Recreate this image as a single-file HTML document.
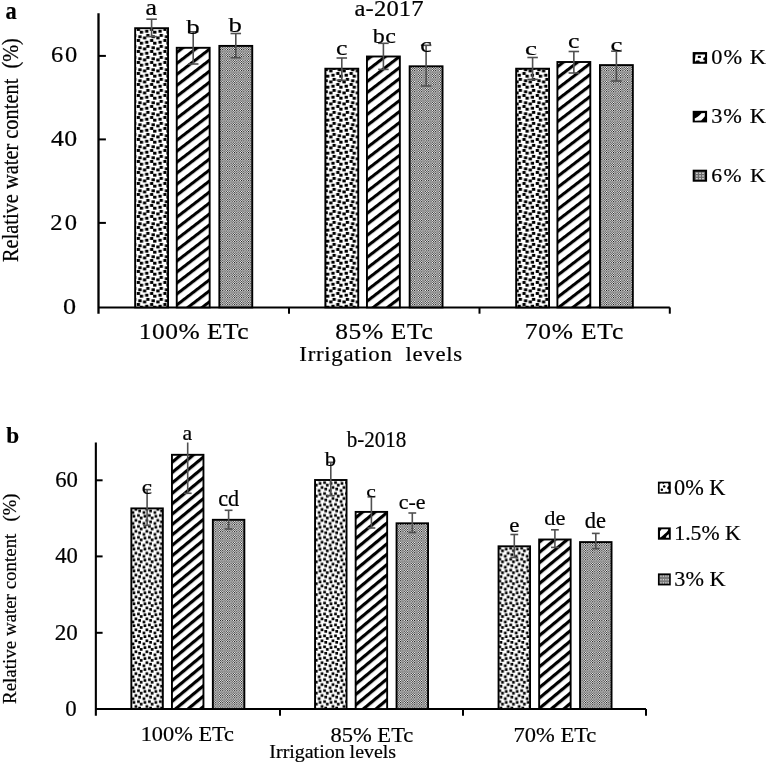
<!DOCTYPE html>
<html><head><meta charset="utf-8"><style>
html,body{margin:0;padding:0;background:#fff;}
svg{display:block;filter:grayscale(1);}
text{font-family:"Liberation Serif",serif;fill:#000;stroke:#000;stroke-width:0.2px;}
</style></head><body>
<svg width="767" height="764" viewBox="0 0 767 764">
<rect width="767" height="764" fill="#fff"/>

<defs>
<pattern id="dotA" patternUnits="userSpaceOnUse" width="13.3" height="11.0" x="136" y="200">
 <rect width="13.3" height="11.0" fill="#fff"/>
 <g fill="#000">
 <rect x="2.26" y="0.31" width="3.3" height="2.9"/><rect x="-3.02" y="-1.06" width="3.3" height="2.9"/><rect x="-3.02" y="9.94" width="3.3" height="2.9"/><rect x="10.28" y="-1.06" width="3.3" height="2.9"/><rect x="10.28" y="9.94" width="3.3" height="2.9"/><rect x="6.95" y="1.48" width="3.3" height="2.9"/><rect x="0.70" y="4.03" width="3.3" height="2.9"/><rect x="3.83" y="6.76" width="3.3" height="2.9"/><rect x="9.10" y="5.78" width="3.3" height="2.9"/>
 </g>
</pattern>
<pattern id="dotB" patternUnits="userSpaceOnUse" width="10.95" height="10.95" x="132" y="640">
 <rect width="10.95" height="10.95" fill="#fff"/>
 <g fill="#000">
 <rect x="2.56" y="-0.57" width="2.7" height="2.7"/><rect x="2.56" y="10.38" width="2.7" height="2.7"/><rect x="6.28" y="1.00" width="2.7" height="2.7"/><rect x="-0.37" y="2.56" width="2.7" height="2.7"/><rect x="10.58" y="2.56" width="2.7" height="2.7"/><rect x="5.10" y="5.49" width="2.7" height="2.7"/><rect x="0.61" y="6.28" width="2.7" height="2.7"/><rect x="7.84" y="8.04" width="2.7" height="2.7"/>
 </g>
</pattern>
<pattern id="strA" patternUnits="userSpaceOnUse" width="20" height="8.7" patternTransform="rotate(-37.6)">
 <rect width="20" height="8.7" fill="#fff"/>
 <rect y="0" width="20" height="3.1" fill="#000"/>
</pattern>
<pattern id="strB" patternUnits="userSpaceOnUse" width="20" height="8.0" patternTransform="rotate(-39.7)">
 <rect width="20" height="8.0" fill="#fff"/>
 <rect y="0" width="20" height="3.2" fill="#000"/>
</pattern>
<pattern id="grid" patternUnits="userSpaceOnUse" width="2.34" height="2.34">
 <rect width="2.34" height="2.34" fill="#fff"/>
 <rect width="1.07" height="1.07" fill="#000"/>
 <rect x="1.17" y="1.17" width="1.07" height="1.07" fill="#000"/>
</pattern>
</defs>

<line x1="98.5" y1="13.3" x2="98.5" y2="313.7" stroke="#000" stroke-width="2.3"/>
<line x1="98.5" y1="55.9" x2="105.9" y2="55.9" stroke="#000" stroke-width="2"/>
<line x1="98.5" y1="139.4" x2="105.9" y2="139.4" stroke="#000" stroke-width="2"/>
<line x1="98.5" y1="222.9" x2="105.9" y2="222.9" stroke="#000" stroke-width="2"/>
<line x1="98.5" y1="307.4" x2="669.8" y2="307.4" stroke="#000" stroke-width="2"/>
<line x1="289" y1="307.4" x2="289" y2="313.7" stroke="#000" stroke-width="2"/>
<line x1="479.5" y1="307.4" x2="479.5" y2="313.7" stroke="#000" stroke-width="2"/>
<line x1="669.8" y1="307.4" x2="669.8" y2="313.7" stroke="#000" stroke-width="2"/>
<rect x="135.15" y="28.2" width="32.9" height="279.2" fill="url(#dotA)" stroke="#000" stroke-width="1.9"/>
<rect x="176.75" y="47.8" width="32.9" height="259.6" fill="url(#strA)" stroke="#000" stroke-width="1.9"/>
<rect x="219.35" y="45.9" width="32.9" height="261.5" fill="url(#grid)" stroke="#000" stroke-width="1.9"/>
<rect x="325.35" y="68.7" width="32.9" height="238.7" fill="url(#dotA)" stroke="#000" stroke-width="1.9"/>
<rect x="366.95" y="56.5" width="32.9" height="250.9" fill="url(#strA)" stroke="#000" stroke-width="1.9"/>
<rect x="409.65" y="66.3" width="32.9" height="241.1" fill="url(#grid)" stroke="#000" stroke-width="1.9"/>
<rect x="516.15" y="68.7" width="32.9" height="238.7" fill="url(#dotA)" stroke="#000" stroke-width="1.9"/>
<rect x="557.4" y="62" width="32.9" height="245.4" fill="url(#strA)" stroke="#000" stroke-width="1.9"/>
<rect x="599.95" y="65.1" width="32.9" height="242.3" fill="url(#grid)" stroke="#000" stroke-width="1.9"/>
<line x1="151.6" y1="19.2" x2="151.6" y2="36.6" stroke="#505050" stroke-width="1.6"/>
<line x1="146.35" y1="19.2" x2="156.85" y2="19.2" stroke="#505050" stroke-width="1.6"/>
<line x1="146.35" y1="36.6" x2="156.85" y2="36.6" stroke="#505050" stroke-width="1.6"/>
<line x1="193.2" y1="31.8" x2="193.2" y2="64" stroke="#505050" stroke-width="1.6"/>
<line x1="187.95" y1="31.8" x2="198.45" y2="31.8" stroke="#505050" stroke-width="1.6"/>
<line x1="187.95" y1="64" x2="198.45" y2="64" stroke="#505050" stroke-width="1.6"/>
<line x1="235.8" y1="33.5" x2="235.8" y2="57.7" stroke="#505050" stroke-width="1.6"/>
<line x1="230.55" y1="33.5" x2="241.05" y2="33.5" stroke="#505050" stroke-width="1.6"/>
<line x1="230.55" y1="57.7" x2="241.05" y2="57.7" stroke="#505050" stroke-width="1.6"/>
<line x1="341.8" y1="58" x2="341.8" y2="80.3" stroke="#505050" stroke-width="1.6"/>
<line x1="336.55" y1="58" x2="347.05" y2="58" stroke="#505050" stroke-width="1.6"/>
<line x1="336.55" y1="80.3" x2="347.05" y2="80.3" stroke="#505050" stroke-width="1.6"/>
<line x1="383.4" y1="43.3" x2="383.4" y2="69.4" stroke="#505050" stroke-width="1.6"/>
<line x1="378.15" y1="43.3" x2="388.65" y2="43.3" stroke="#505050" stroke-width="1.6"/>
<line x1="378.15" y1="69.4" x2="388.65" y2="69.4" stroke="#505050" stroke-width="1.6"/>
<line x1="426.1" y1="45.3" x2="426.1" y2="86" stroke="#505050" stroke-width="1.6"/>
<line x1="420.85" y1="45.3" x2="431.35" y2="45.3" stroke="#505050" stroke-width="1.6"/>
<line x1="420.85" y1="86" x2="431.35" y2="86" stroke="#505050" stroke-width="1.6"/>
<line x1="532.6" y1="57.5" x2="532.6" y2="79.4" stroke="#505050" stroke-width="1.6"/>
<line x1="527.35" y1="57.5" x2="537.85" y2="57.5" stroke="#505050" stroke-width="1.6"/>
<line x1="527.35" y1="79.4" x2="537.85" y2="79.4" stroke="#505050" stroke-width="1.6"/>
<line x1="573.85" y1="51.5" x2="573.85" y2="73" stroke="#505050" stroke-width="1.6"/>
<line x1="568.6" y1="51.5" x2="579.1" y2="51.5" stroke="#505050" stroke-width="1.6"/>
<line x1="568.6" y1="73" x2="579.1" y2="73" stroke="#505050" stroke-width="1.6"/>
<line x1="616.4" y1="51.2" x2="616.4" y2="81" stroke="#505050" stroke-width="1.6"/>
<line x1="611.15" y1="51.2" x2="621.65" y2="51.2" stroke="#505050" stroke-width="1.6"/>
<line x1="611.15" y1="81" x2="621.65" y2="81" stroke="#505050" stroke-width="1.6"/>
<text transform="translate(5.48 18.55) scale(0.9178 1)" font-size="24.43" font-weight="bold" xml:space="preserve">a</text>
<text transform="translate(51.05 61.8) scale(1.1000 1)" font-size="22.26" font-weight="normal" letter-spacing="1.454" xml:space="preserve">60</text>
<text transform="translate(50.93 145.8) scale(1.1000 1)" font-size="23.46" font-weight="normal" letter-spacing="0.403" xml:space="preserve">40</text>
<text transform="translate(50.34 229.8) scale(1.1000 1)" font-size="22.33" font-weight="normal" letter-spacing="2.022" xml:space="preserve">20</text>
<text transform="translate(62.9 313.7) scale(1.1165 1)" font-size="23.46" font-weight="normal" xml:space="preserve">0</text>
<text transform="translate(354.49 15.9) scale(1.1000 1)" font-size="22.41" font-weight="normal" letter-spacing="0.129" xml:space="preserve">a-2017</text>
<text transform="translate(138.76 339.3) scale(1.1000 1)" font-size="23.16" font-weight="normal" letter-spacing="0.439" xml:space="preserve">100% ETc</text>
<text transform="translate(335.13 339.3) scale(1.1000 1)" font-size="23.16" font-weight="normal" letter-spacing="0.597" xml:space="preserve">85% ETc</text>
<text transform="translate(524.79 339.3) scale(1.1000 1)" font-size="23.16" font-weight="normal" letter-spacing="0.724" xml:space="preserve">70% ETc</text>
<text transform="translate(299.35 361.4) scale(1.1000 1)" font-size="20.72" font-weight="normal" letter-spacing="0.655" xml:space="preserve">Irrigation  levels</text>
<text transform="translate(18.3 262.06) rotate(-90) scale(1 1.1156)" font-size="20.39" xml:space="preserve">Relative water content</text>
<text transform="translate(18.4 68.56) rotate(-90) scale(1 1.1634)" font-size="20.28" xml:space="preserve">(%)</text>
<text transform="translate(711.36 63.6) scale(1.1000 1)" font-size="20.30" font-weight="normal" letter-spacing="0.892" xml:space="preserve">0% K</text>
<text transform="translate(711.13 122.6) scale(1.1000 1)" font-size="20.30" font-weight="normal" letter-spacing="0.960" xml:space="preserve">3% K</text>
<text transform="translate(711.27 181.6) scale(1.1000 1)" font-size="19.70" font-weight="normal" letter-spacing="1.377" xml:space="preserve">6% K</text>
<rect x="692.69" y="52.06" width="14.38" height="11.72" fill="#000"/>
<polygon points="695.50,54.56 705.03,54.56 704.88,57.06 703.31,58.00 703.31,59.88 704.88,60.50 704.25,61.75 699.88,61.75 699.25,60.50 696.44,60.50 695.50,61.75 694.88,60.50 695.19,58.00" fill="#fff"/>
<rect x="697.84" y="55.81" width="2.97" height="2.19" fill="#000"/>
<rect x="692.69" y="110.84" width="14.38" height="11.56" fill="#000"/>
<polygon points="694.72,118.50 697.38,116.94 699.88,115.06 701.44,113.19 704.88,112.88 704.88,116.31 703.31,118.19 701.12,120.38 694.88,120.69" fill="#fff"/>
<rect x="692.69" y="169.69" width="14.38" height="12.03" fill="#000"/>
<rect x="694.72" y="171.72" width="10.31" height="8.12" fill="#6a6a6a"/>
<rect x="696.09" y="172.59" width="1.62" height="1.38" fill="#dcdcdc"/>
<rect x="696.09" y="175.25" width="1.62" height="1.38" fill="#dcdcdc"/>
<rect x="696.09" y="177.91" width="1.62" height="1.38" fill="#dcdcdc"/>
<rect x="699.22" y="172.59" width="1.62" height="1.38" fill="#dcdcdc"/>
<rect x="699.22" y="175.25" width="1.62" height="1.38" fill="#dcdcdc"/>
<rect x="699.22" y="177.91" width="1.62" height="1.38" fill="#dcdcdc"/>
<rect x="702.19" y="172.59" width="1.62" height="1.38" fill="#dcdcdc"/>
<rect x="702.19" y="175.25" width="1.62" height="1.38" fill="#dcdcdc"/>
<rect x="702.19" y="177.91" width="1.62" height="1.38" fill="#dcdcdc"/>
<text transform="translate(145.55 14.6) scale(1.1343 1)" font-size="22.77" font-weight="normal" xml:space="preserve">a</text>
<text transform="translate(186.15 33.6) scale(1.2245 1)" font-size="22.01" font-weight="normal" xml:space="preserve">b</text>
<text transform="translate(228.55 32.1) scale(1.2146 1)" font-size="22.01" font-weight="normal" xml:space="preserve">b</text>
<text transform="translate(336.02 54.5) scale(1.2405 1)" font-size="20.85" font-weight="normal" xml:space="preserve">c</text>
<text transform="translate(372.65 42.6) scale(1.1000 1)" font-size="21.87" font-weight="normal" letter-spacing="0.443" xml:space="preserve">bc</text>
<text transform="translate(420.32 52.4) scale(1.1803 1)" font-size="21.91" font-weight="normal" xml:space="preserve">c</text>
<text transform="translate(525.07 54.5) scale(1.4223 1)" font-size="18.94" font-weight="normal" xml:space="preserve">c</text>
<text transform="translate(568.02 48.1) scale(1.2405 1)" font-size="20.85" font-weight="normal" xml:space="preserve">c</text>
<text transform="translate(610.47 50.8) scale(1.3759 1)" font-size="19.57" font-weight="normal" xml:space="preserve">c</text>
<line x1="95.85" y1="442.5" x2="95.85" y2="715.8" stroke="#000" stroke-width="2.1"/>
<line x1="95.85" y1="480.3" x2="102.6" y2="480.3" stroke="#000" stroke-width="2"/>
<line x1="95.85" y1="556.4" x2="102.6" y2="556.4" stroke="#000" stroke-width="2"/>
<line x1="95.85" y1="632.8" x2="102.6" y2="632.8" stroke="#000" stroke-width="2"/>
<line x1="95.85" y1="709" x2="646" y2="709" stroke="#000" stroke-width="2.1"/>
<line x1="280" y1="709" x2="280" y2="715.8" stroke="#000" stroke-width="2"/>
<line x1="463" y1="709" x2="463" y2="715.8" stroke="#000" stroke-width="2"/>
<line x1="646" y1="709" x2="646" y2="715.8" stroke="#000" stroke-width="2"/>
<rect x="131.35" y="508.4" width="31.5" height="200.6" fill="url(#dotB)" stroke="#000" stroke-width="1.9"/>
<rect x="171.95" y="454.8" width="31.5" height="254.2" fill="url(#strB)" stroke="#000" stroke-width="1.9"/>
<rect x="212.85" y="519.8" width="31.5" height="189.2" fill="url(#grid)" stroke="#000" stroke-width="1.9"/>
<rect x="315.05" y="480" width="31.5" height="229" fill="url(#dotB)" stroke="#000" stroke-width="1.9"/>
<rect x="355.65" y="511.9" width="31.5" height="197.1" fill="url(#strB)" stroke="#000" stroke-width="1.9"/>
<rect x="396.55" y="523.3" width="31.5" height="185.7" fill="url(#grid)" stroke="#000" stroke-width="1.9"/>
<rect x="498.55" y="546.3" width="31.5" height="162.7" fill="url(#dotB)" stroke="#000" stroke-width="1.9"/>
<rect x="539.15" y="539.5" width="31.5" height="169.5" fill="url(#strB)" stroke="#000" stroke-width="1.9"/>
<rect x="580.05" y="542.1" width="31.5" height="166.9" fill="url(#grid)" stroke="#000" stroke-width="1.9"/>
<line x1="147.1" y1="489.6" x2="147.1" y2="525.4" stroke="#505050" stroke-width="1.6"/>
<line x1="143.2" y1="489.6" x2="151" y2="489.6" stroke="#505050" stroke-width="1.6"/>
<line x1="143.2" y1="525.4" x2="151" y2="525.4" stroke="#505050" stroke-width="1.6"/>
<line x1="187.7" y1="442.5" x2="187.7" y2="493.3" stroke="#505050" stroke-width="1.6"/>
<line x1="183.8" y1="493.3" x2="191.6" y2="493.3" stroke="#505050" stroke-width="1.6"/>
<line x1="228.6" y1="510.3" x2="228.6" y2="529" stroke="#505050" stroke-width="1.6"/>
<line x1="224.7" y1="510.3" x2="232.5" y2="510.3" stroke="#505050" stroke-width="1.6"/>
<line x1="224.7" y1="529" x2="232.5" y2="529" stroke="#505050" stroke-width="1.6"/>
<line x1="330.8" y1="462.3" x2="330.8" y2="495.7" stroke="#505050" stroke-width="1.6"/>
<line x1="326.9" y1="462.3" x2="334.7" y2="462.3" stroke="#505050" stroke-width="1.6"/>
<line x1="326.9" y1="495.7" x2="334.7" y2="495.7" stroke="#505050" stroke-width="1.6"/>
<line x1="371.4" y1="496.9" x2="371.4" y2="528" stroke="#505050" stroke-width="1.6"/>
<line x1="367.5" y1="496.9" x2="375.3" y2="496.9" stroke="#505050" stroke-width="1.6"/>
<line x1="367.5" y1="528" x2="375.3" y2="528" stroke="#505050" stroke-width="1.6"/>
<line x1="412.3" y1="513" x2="412.3" y2="532.5" stroke="#505050" stroke-width="1.6"/>
<line x1="408.4" y1="513" x2="416.2" y2="513" stroke="#505050" stroke-width="1.6"/>
<line x1="408.4" y1="532.5" x2="416.2" y2="532.5" stroke="#505050" stroke-width="1.6"/>
<line x1="514.3" y1="534.5" x2="514.3" y2="557.5" stroke="#505050" stroke-width="1.6"/>
<line x1="510.4" y1="534.5" x2="518.2" y2="534.5" stroke="#505050" stroke-width="1.6"/>
<line x1="510.4" y1="557.5" x2="518.2" y2="557.5" stroke="#505050" stroke-width="1.6"/>
<line x1="554.9" y1="529.8" x2="554.9" y2="547.4" stroke="#505050" stroke-width="1.6"/>
<line x1="551" y1="529.8" x2="558.8" y2="529.8" stroke="#505050" stroke-width="1.6"/>
<line x1="551" y1="547.4" x2="558.8" y2="547.4" stroke="#505050" stroke-width="1.6"/>
<line x1="595.8" y1="533.4" x2="595.8" y2="548.7" stroke="#505050" stroke-width="1.6"/>
<line x1="591.9" y1="533.4" x2="599.7" y2="533.4" stroke="#505050" stroke-width="1.6"/>
<line x1="591.9" y1="548.7" x2="599.7" y2="548.7" stroke="#505050" stroke-width="1.6"/>
<text transform="translate(6.2 442.6) scale(0.9713 1)" font-size="23.88" font-weight="bold" xml:space="preserve">b</text>
<text transform="translate(55.13 486.8) scale(1.0011 1)" font-size="22.71" font-weight="normal" xml:space="preserve">60</text>
<text transform="translate(55.2 563.3) scale(0.9979 1)" font-size="22.71" font-weight="normal" xml:space="preserve">40</text>
<text transform="translate(54.81 639.5) scale(1.0023 1)" font-size="23.01" font-weight="normal" xml:space="preserve">20</text>
<text transform="translate(65.24 715.7) scale(1.0270 1)" font-size="22.26" font-weight="normal" xml:space="preserve">0</text>
<text transform="translate(346.65 447) scale(0.9527 1)" font-size="22.16" font-weight="normal" xml:space="preserve">b-2018</text>
<text transform="translate(140.64 741.2) scale(1.0328 1)" font-size="21.65" font-weight="normal" xml:space="preserve">100% ETc</text>
<text transform="translate(330.45 741.5) scale(1.0341 1)" font-size="21.80" font-weight="normal" xml:space="preserve">85% ETc</text>
<text transform="translate(513.49 741.5) scale(1.0337 1)" font-size="21.80" font-weight="normal" xml:space="preserve">70% ETc</text>
<text transform="translate(269.35 758.2) scale(1.0173 1)" font-size="19.60" font-weight="normal" xml:space="preserve">Irrigation levels</text>
<text transform="translate(15.9 703.92) rotate(-90) scale(1 1.0076)" font-size="18.94" xml:space="preserve">Relative water content</text>
<text transform="translate(15.6 521.49) rotate(-90) scale(1 1.0144)" font-size="18.58" xml:space="preserve">(%)</text>
<text transform="translate(674.06 494.5) scale(0.9955 1)" font-size="22.41" font-weight="normal" xml:space="preserve">0% K</text>
<text transform="translate(674.29 540.1) scale(1.0049 1)" font-size="21.65" font-weight="normal" xml:space="preserve">1.5% K</text>
<text transform="translate(674.34 586) scale(1.0316 1)" font-size="21.50" font-weight="normal" xml:space="preserve">3% K</text>
<rect x="657.93" y="481.66" width="12.83" height="12.04" fill="#000"/>
<polygon points="659.63,483.63 661.85,483.24 663.42,484.02 664.47,483.37 668.14,483.37 668.66,485.85 667.35,487.16 667.35,488.99 668.66,489.52 668.66,491.61 667.61,492.14 665.78,491.61 665.26,492.14 659.63,492.14" fill="#fff"/>
<circle cx="664.21" cy="486.38" r="1.25" fill="#000"/>
<circle cx="661.85" cy="489.65" r="1.25" fill="#000"/>
<rect x="657.93" y="527.40" width="12.83" height="12.30" fill="#000"/>
<polygon points="660.02,531.33 661.59,529.24 668.14,529.24 668.14,530.28 666.30,532.38 664.47,533.95 662.90,535.52 661.07,537.09 660.02,537.61" fill="#fff"/>
<polygon points="665.78,537.87 666.57,536.04 668.66,533.95 669.05,537.87" fill="#fff"/>
<rect x="657.93" y="573.40" width="12.83" height="12.04" fill="#000"/>
<rect x="659.50" y="575.24" width="9.69" height="8.38" fill="#7a7a7a"/>
<rect x="660.31" y="575.52" width="1.26" height="1.26" fill="#d8d8d8"/>
<rect x="660.31" y="579.06" width="1.26" height="1.26" fill="#d8d8d8"/>
<rect x="660.31" y="582.20" width="1.26" height="1.26" fill="#d8d8d8"/>
<rect x="662.80" y="575.52" width="1.26" height="1.26" fill="#d8d8d8"/>
<rect x="662.80" y="579.06" width="1.26" height="1.26" fill="#d8d8d8"/>
<rect x="662.80" y="582.20" width="1.26" height="1.26" fill="#d8d8d8"/>
<rect x="665.28" y="575.52" width="1.26" height="1.26" fill="#d8d8d8"/>
<rect x="665.28" y="579.06" width="1.26" height="1.26" fill="#d8d8d8"/>
<rect x="665.28" y="582.20" width="1.26" height="1.26" fill="#d8d8d8"/>
<rect x="667.64" y="575.52" width="1.26" height="1.26" fill="#d8d8d8"/>
<rect x="667.64" y="579.06" width="1.26" height="1.26" fill="#d8d8d8"/>
<rect x="667.64" y="582.20" width="1.26" height="1.26" fill="#d8d8d8"/>
<text transform="translate(141.72 494.3) scale(1.1127 1)" font-size="20.85" font-weight="normal" xml:space="preserve">c</text>
<text transform="translate(182.39 440.2) scale(1.0771 1)" font-size="20.21" font-weight="normal" xml:space="preserve">a</text>
<text transform="translate(218.16 505.7) scale(0.9913 1)" font-size="22.37" font-weight="normal" xml:space="preserve">cd</text>
<text transform="translate(324.85 465.8) scale(1.0406 1)" font-size="21.73" font-weight="normal" xml:space="preserve">b</text>
<text transform="translate(366.29 496.6) scale(1.2533 1)" font-size="17.23" font-weight="normal" xml:space="preserve">c</text>
<text transform="translate(398.77 509.2) scale(1.0141 1)" font-size="21.70" font-weight="normal" xml:space="preserve">c-e</text>
<text transform="translate(509.13 531.7) scale(1.0586 1)" font-size="21.70" font-weight="normal" xml:space="preserve">e</text>
<text transform="translate(544.27 525.2) scale(1.0175 1)" font-size="22.01" font-weight="normal" xml:space="preserve">de</text>
<text transform="translate(584.66 527.7) scale(1.0161 1)" font-size="22.16" font-weight="normal" xml:space="preserve">de</text>
</svg>
</body></html>
